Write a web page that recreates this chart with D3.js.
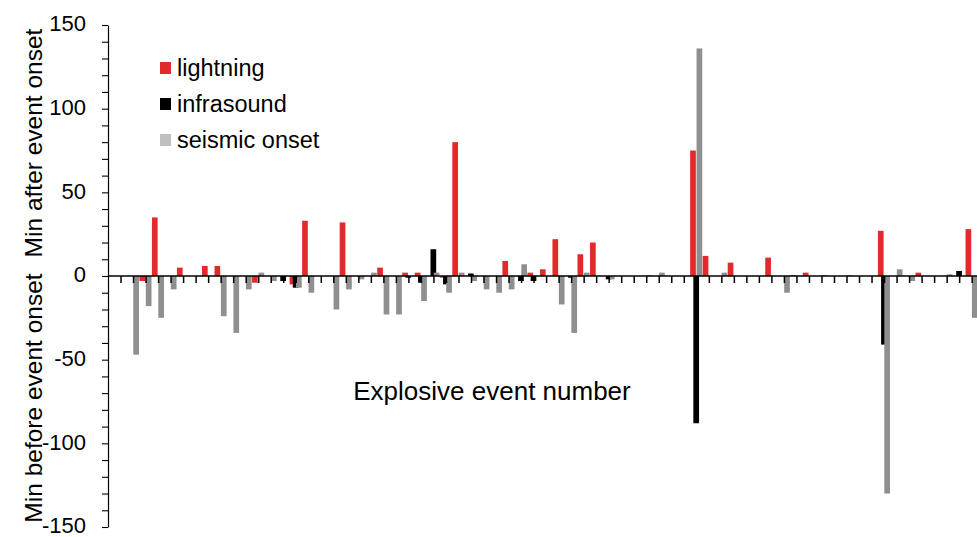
<!DOCTYPE html>
<html>
<head>
    <meta charset="utf-8">
    <title>Explosive events</title>
    <script src="https://d3js.org/d3.v7.min.js"></script>
    <style>
        body { margin: 0; background: #fff; }
        text { font-family: "Liberation Sans", Arial, sans-serif; }
    </style>
</head>
<body>
<div id="chart"></div>
<script type="text/javascript">
    let w = 977;
    let h = 537;

    // event numbers (70 events, index 0..69)
    let events = d3.range(0, 70);

    // minutes relative to event onset (0 = nothing drawn)
    let lightning = [
        0, 0, 0, -3, 35, 0, 5, 0, 6, 6,
        0, 0, -4, 0, 0, -5, 33, 0, 0, 32,
        0, 0, 5, 0, 2, 2, 0, -1, 80, 0,
        0, 0, 9, 0, 2, 4, 22, 0, 13, 20,
        0, 0, 0, 0, 0, 0, 0, 75, 12, 0,
        8, 0, 0, 11, 0, 0.5, 2, 0, 0, 0,
        0, 0, 27, 0, 0, 2, 0, 0, 0, 28];
    let infrasound = [
        0, 0, 0, 0, 0, 0, 0, 0, 0, 0,
        0, 0, 0, 0, -3, -7, 0, 0, 0, 0,
        0, 0, 0, 0, -1, -4, 16, -5, 0, 1.5,
        0, 0, 0, -3, -3, 0, 0, -1, 0, 0,
        -2, 0, 0, 0, 0, 0, 0, -88, 0, 0,
        0, 0, 0, 0, 0, 0, 0, 0, 0, 0,
        0, 0, -41, 0, 0, 0, 0, 0, 3, 0];
    let seismic = [
        0, 0, -47, -18, -25, -8, 0, 0, 0, -24,
        -34, -8, 2, -3, 0, -7, -10, 0, -20, -8,
        -2, 2, -23, -23, 0, -15, 2, -10, 2, -3,
        -8, -10, -8, 7, 0, 0, -17, -34, 2, 0,
        -2, 0, 0, 0.5, 2, 0, 0, 136, 0, 2,
        0, 0, 0, 0, -10, 0, 0, 0.5, 0, 0.5,
        0, 0, -130, 4, -3, 0, 0, 1, 0, -25];

    let seriesNames = ["lightning", "infrasound", "seismic onset"];
    let seriesColors = ["#e32a2a", "#000000", "#8f8f8f"];
    let legendColors = ["#e32a2a", "#000000", "#c0c0c0"];
    let yTicks = d3.range(-150, 151, 10);

    let margin = {left: 108, top: 25, bottom: 10};
    let step = 12.517;

    let svg = d3.select("#chart")
                .append("svg")
                .attr("width", w)
                .attr("height", h);

    svg.append("rect").attr("width", w).attr("height", h).attr("fill", "#fff");

    // scales
    let xScale = d3.scalePoint()
                    .domain(events)
                    .range([margin.left, margin.left + step * (events.length - 1)]);

    let xSub = d3.scalePoint()
                    .domain(seriesNames)
                    .range([-3.3, 3.1]);

    let yScale = d3.scaleLinear()
                    .domain([-150, 150])
                    .range([527, 25]);

    let barW = 5.7;

    // bars, one group per series (grey drawn last, on top)
    let allSeries = [lightning, infrasound, seismic];
    allSeries.forEach(function(vals, si) {
        svg.append("g")
            .selectAll("rect")
            .data(events.filter(function(e) { return vals[e] !== 0; }))
            .enter()
            .append("rect")
            .attr("x", function(e) { return xScale(e) + xSub(seriesNames[si]) - barW / 2; })
            .attr("y", function(e) { return yScale(Math.max(0, vals[e])); })
            .attr("width", barW)
            .attr("height", function(e) { return Math.abs(yScale(vals[e]) - yScale(0)); })
            .attr("fill", seriesColors[si]);
    });

    // category axis along zero
    let xAxis = d3.axisBottom(xScale)
                    .tickValues(events.slice(1))
                    .tickSize(7)
                    .tickSizeOuter(0)
                    .tickFormat("");

    let gx = svg.append("g")
        .attr("transform", "translate(0," + yScale(0) + ")")
        .call(xAxis);
    gx.select(".domain").attr("d", "M" + margin.left + ",0H" + w).attr("stroke-width", 1.6);
    gx.selectAll(".tick line").attr("stroke-width", 1.5);

    // y axis
    let yAxis = d3.axisLeft(yScale)
                    .tickValues(yTicks)
                    .tickSize(6)
                    .tickSizeOuter(0)
                    .tickPadding(16)
                    .tickFormat(function(d) { return d % 50 === 0 ? String(d) : ""; });

    let gy = svg.append("g")
        .attr("transform", "translate(" + margin.left + ",0)")
        .call(yAxis);
    gy.selectAll("text").attr("font-size", "22px").attr("fill", "#000").attr("dy", "0.26em")
        .style("font-family", "'Liberation Sans', Arial, sans-serif");
    gy.select(".domain").attr("stroke-width", 1.2);
    gy.selectAll(".tick line").attr("stroke-width", 1.1);

    // axis titles
    svg.append("text")
        .attr("transform", "translate(42," + 143 + ") rotate(-90)")
        .attr("text-anchor", "middle")
        .attr("font-size", "24.5px")
        .text("Min after event onset");

    svg.append("text")
        .attr("transform", "translate(42," + 398 + ") rotate(-90)")
        .attr("text-anchor", "middle")
        .attr("font-size", "24.5px")
        .text("Min before event onset");

    svg.append("text")
        .attr("x", 492)
        .attr("y", 400)
        .attr("text-anchor", "middle")
        .attr("font-size", "26px")
        .text("Explosive event number");

    // legend
    let legend = svg.append("g")
        .selectAll("g")
        .data(seriesNames)
        .enter()
        .append("g")
        .attr("transform", function(d, i) { return "translate(160," + (62 + i * 36) + ")"; });

    legend.append("rect")
        .attr("width", 11)
        .attr("height", 12)
        .attr("fill", function(d, i) { return legendColors[i]; });

    legend.append("text")
        .attr("x", 17)
        .attr("y", 14)
        .attr("font-size", "23.5px")
        .text(function(d) { return d; });
</script>
</body>
</html>
